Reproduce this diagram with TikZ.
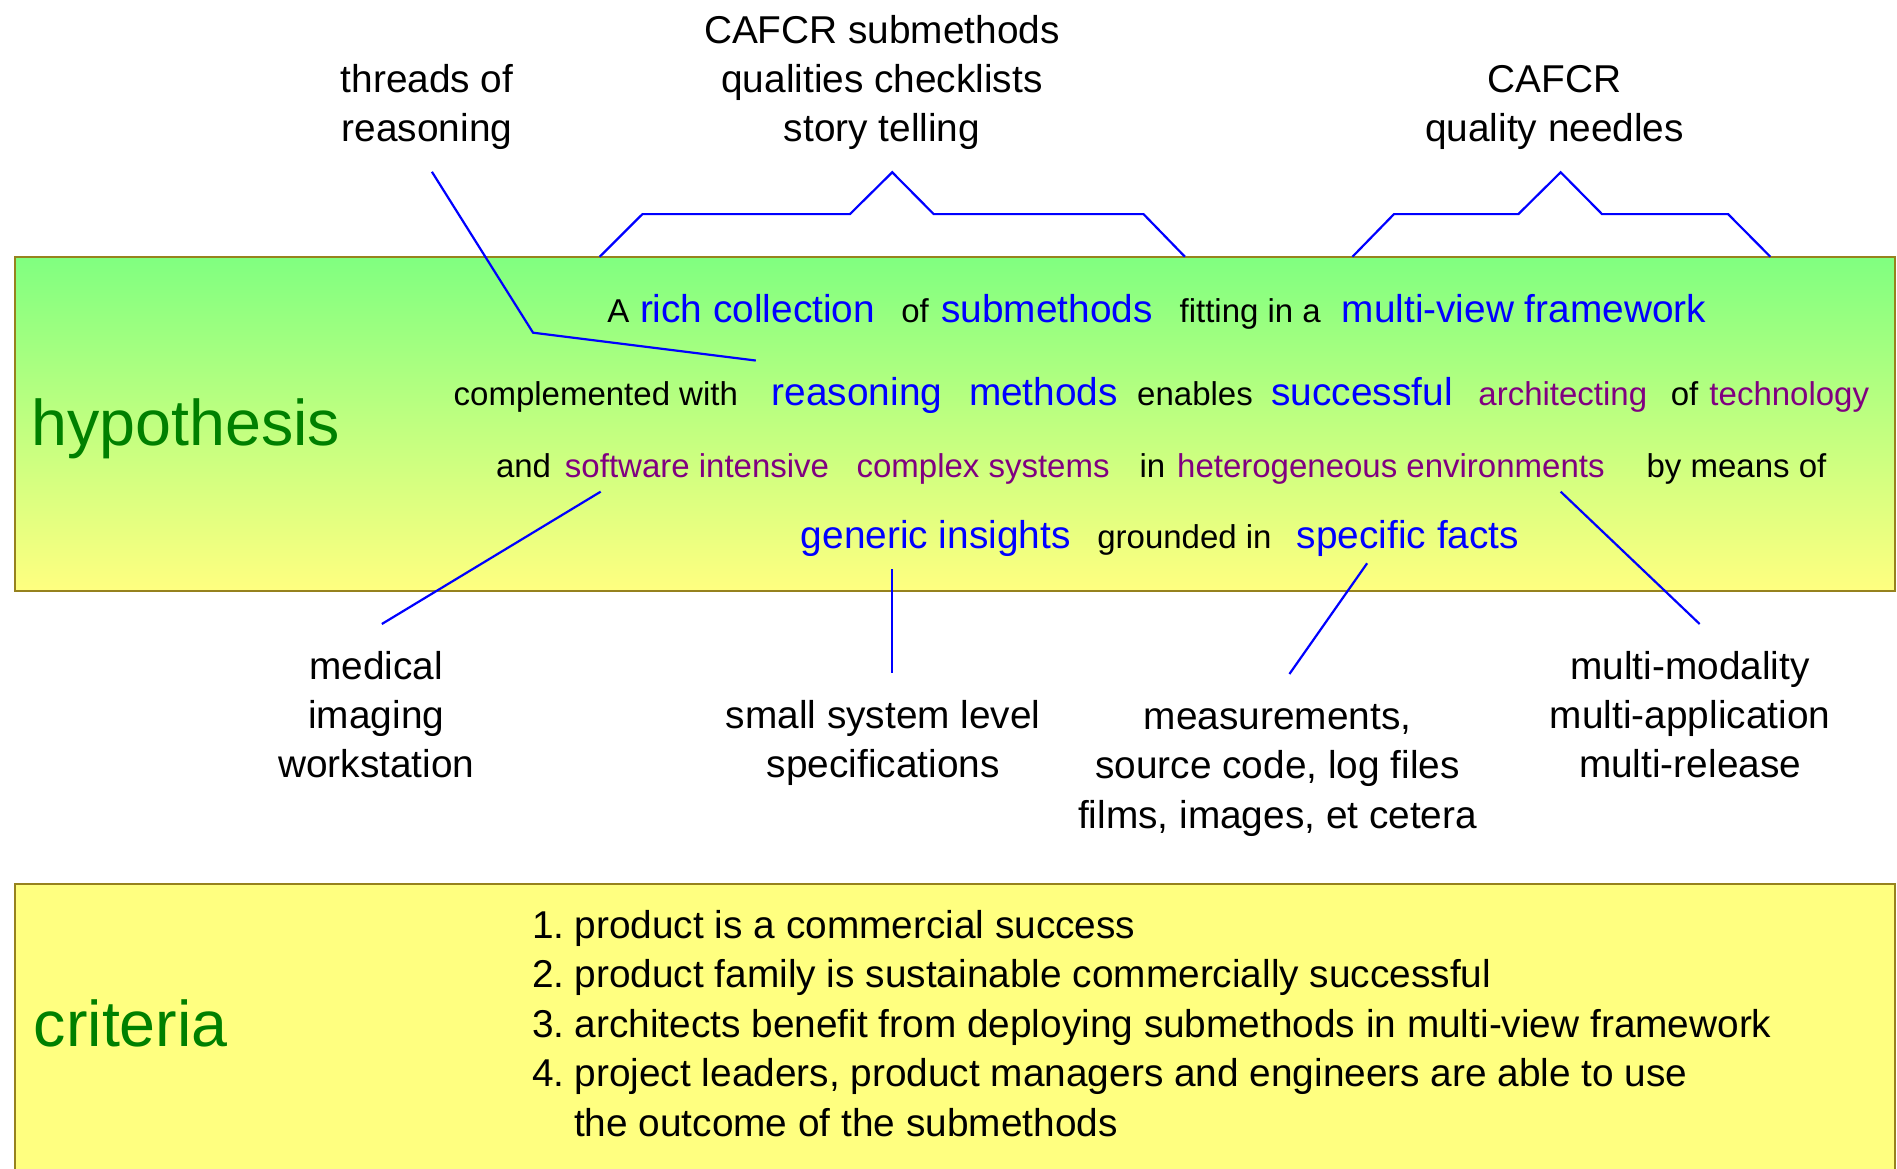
\documentclass[tikz,border=0pt]{standalone}
\usepackage{fontspec}
\setmainfont{Liberation Sans}
\definecolor{boxgreen}{RGB}{128,255,128}
\definecolor{boxyellow}{RGB}{255,255,128}
\definecolor{boxedge}{RGB}{150,130,30}
\definecolor{hgreen}{RGB}{0,128,0}
\definecolor{wpurple}{RGB}{128,0,128}
\definecolor{wblue}{RGB}{0,0,255}
\newcommand{\numitem}[2]{\makebox[42.4pt][l]{#1}#2}
\begin{document}
\begin{tikzpicture}[x=1.2098pt,y=-1.2098pt,
  every node/.style={inner sep=0pt,outer sep=0pt},
  lbl/.style={font=\fontsize{38.8}{49.2}\selectfont,align=center,anchor=base},
  sw/.style={font=\fontsize{33}{40}\selectfont,anchor=base west,text=black},
  pw/.style={font=\fontsize{33}{40}\selectfont,anchor=base west,text=wpurple},
  bw/.style={font=\fontsize{38.8}{49}\selectfont,anchor=base west,text=wblue},
  big/.style={font=\fontsize{64.6}{70}\selectfont,anchor=base west,text=hgreen},
  lst/.style={font=\fontsize{38.8}{49.6}\selectfont,anchor=base west},
  conn/.style={draw=wblue,line width=2.2pt,line join=miter}]
\clip (0,0) rectangle (1568,966);
\fill[white] (0,0) rectangle (1568,966);
% boxes
\shade[top color=boxgreen,bottom color=boxyellow] (12,212.2) rectangle (1566.4,488.2);
\draw[boxedge,line width=2pt] (12,212.2) rectangle (1566.4,488.2);
\fill[boxyellow] (12,730.7) rectangle (1566.4,990);
\draw[boxedge,line width=2pt] (12,990) -- (12,730.7) -- (1566.4,730.7) -- (1566.4,990);
% titles
\node[big] (hyp) at (26,368) {hypothesis};
\node[big] (crit) at (28,865) {criteria};
% line 1
\node[sw] (w1) at (502,266.4) {A};
\node[bw] (w2) at (529,266.4) {rich collection};
\node[sw] (w3) at (745,266.4) {of};
\node[bw] (w4) at (778,266.4) {submethods};
\node[sw] (w5) at (975,266.4) {fitting in a};
\node[bw] (w6) at (1109,266.4) {multi-view framework};
% line 2
\node[sw] (w7) at (375,335.3) {complemented with};
\node[bw] (w8) at (638,335.3) {reasoning};
\node[bw] (w9) at (801,335.3) {methods};
\node[sw] (w10) at (940,335.3) {enables};
\node[bw] (w11) at (1051,335.3) {successful};
\node[pw] (w12) at (1222,335.3) {architecting};
\node[sw] (w13) at (1381,335.3) {of};
\node[pw] (w14) at (1413,335.3) {technology};
% line 3
\node[sw] (w15) at (410,394.5) {and};
\node[pw] (w16) at (467,394.5) {software intensive};
\node[pw] (w17) at (708,394.5) {complex systems};
\node[sw] (w18) at (942,394.5) {in};
\node[pw] (w19) at (973,394.5) {heterogeneous environments};
\node[sw] (w20) at (1361,394.5) {by means of};
% line 4
\node[bw] (w21) at (662,453.2) {generic insights};
\node[sw] (w22) at (907,453.2) {grounded in};
\node[bw] (w23) at (1072,453.2) {specific facts};
% labels (anchor = baseline of last line)
\node[lbl] (thr) at (353,117) {threads of\\reasoning};
\node[lbl] (sub) at (729,117) {CAFCR submethods\\qualities checklists\\story telling};
\node[lbl] (ndl) at (1285,117) {CAFCR\\quality needles};
\node[lbl] (med) at (311,643) {medical\\imaging\\workstation};
\node[lbl] (sml) at (730,643) {small system level\\specifications};
\node[lbl] (mea) at (1056,684.5) {measurements,\\source code, log files\\films, images, et cetera};
\node[lbl] (mul) at (1397,643) {multi-modality\\multi-application\\multi-release};
% criteria list
\node[lst] (c1) at (440,775.6) {\numitem{1.}{product is a commercial success}};
\node[lst] (c2) at (440,816.3) {\numitem{2.}{product family is sustainable commercially successful}};
\node[lst] (c3) at (440,857.3) {\numitem{3.}{architects benefit from deploying submethods in multi-view framework}};
\node[lst] (c4) at (440,898.3) {\numitem{4.}{project leaders, product managers and engineers are able to use}};
\node[lst] (c5) at (474.5,939.3) {the outcome of the submethods};
% connector coordinates
\coordinate (t0) at (357,142);
\coordinate (t1) at (440.6,275);
\coordinate (t2) at (624.7,298);
\coordinate (a0) at (495.7,212.2);
\coordinate (a1) at (531,177);
\coordinate (a2) at (702.5,177);
\coordinate (a3) at (737.5,142.4);
\coordinate (a4) at (771.8,177);
\coordinate (a5) at (945.2,177);
\coordinate (a6) at (979.4,212.2);
\coordinate (b0) at (1117.9,212.2);
\coordinate (b1) at (1152.2,177);
\coordinate (b2) at (1255,177);
\coordinate (b3) at (1290,142.4);
\coordinate (b4) at (1324.2,177);
\coordinate (b5) at (1428.4,177);
\coordinate (b6) at (1463.3,212.2);
\coordinate (m0) at (496.5,406.4);
\coordinate (m1) at (315.6,515.8);
\coordinate (s0) at (737.2,470.6);
\coordinate (s1) at (737.2,556.6);
\coordinate (f0) at (1130,465.6);
\coordinate (f1) at (1065.8,557.1);
\coordinate (h0) at (1290,406.4);
\coordinate (h1) at (1404.9,515.8);
% connectors
\draw[conn] (t0) -- (t1) -- (t2);
\draw[conn] (a0) -- (a1) -- (a2) -- (a3) -- (a4) -- (a5) -- (a6);
\draw[conn] (b0) -- (b1) -- (b2) -- (b3) -- (b4) -- (b5) -- (b6);
\draw[conn] (m0) -- (m1);
\draw[conn] (s0) -- (s1);
\draw[conn] (f0) -- (f1);
\draw[conn] (h0) -- (h1);
\end{tikzpicture}
\end{document}
